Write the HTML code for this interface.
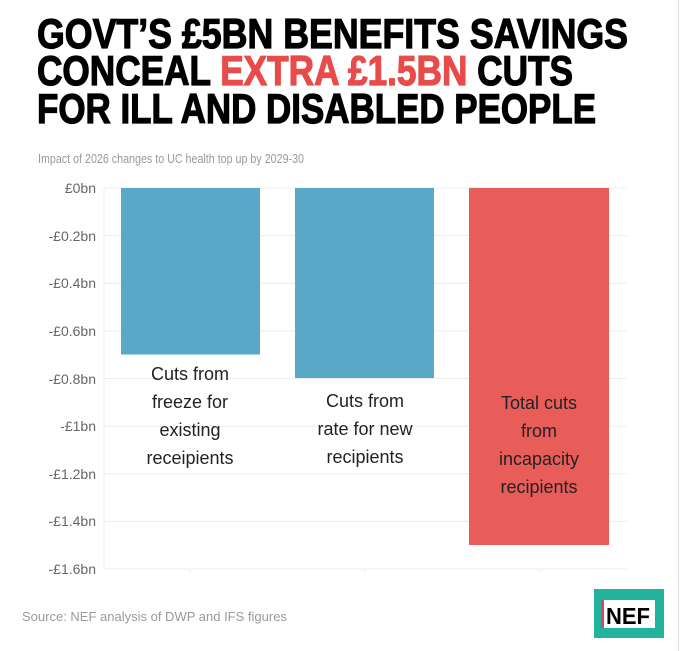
<!DOCTYPE html>
<html><head><meta charset="utf-8"><style>
html,body{margin:0;padding:0;background:#fff;width:680px;height:651px;overflow:hidden}
svg{display:block}
</style></head><body>
<svg width="680" height="651" viewBox="0 0 680 651" xmlns="http://www.w3.org/2000/svg">
<rect width="680" height="651" fill="#fff"/>
<line x1="678.5" y1="0" x2="678.5" y2="651" stroke="#ddd" stroke-width="1"/>
<g font-family="Liberation Sans, sans-serif" font-weight="bold" font-size="42" fill="#000" stroke="#000" stroke-width="1.2">
<text x="37" y="48" textLength="591" lengthAdjust="spacingAndGlyphs">GOVT’S £5BN BENEFITS SAVINGS</text>
<text x="37" y="85" textLength="536" lengthAdjust="spacingAndGlyphs">CONCEAL <tspan fill="#e84c4a" stroke="#e84c4a">EXTRA £1.5BN</tspan> CUTS</text>
<text x="37" y="123" textLength="559" lengthAdjust="spacingAndGlyphs">FOR ILL AND DISABLED PEOPLE</text>
</g>
<text x="38" y="163" font-family="Liberation Sans, sans-serif" font-size="13" fill="#9a9a9a" textLength="266" lengthAdjust="spacingAndGlyphs">Impact of 2026 changes to UC health top up by 2029-30</text>
<g stroke="#ececec" stroke-width="1">
<line x1="104" y1="188" x2="627" y2="188"/>
<line x1="104" y1="235.6" x2="627" y2="235.6"/>
<line x1="104" y1="283.2" x2="627" y2="283.2"/>
<line x1="104" y1="330.9" x2="627" y2="330.9"/>
<line x1="104" y1="378.5" x2="627" y2="378.5"/>
<line x1="104" y1="426.1" x2="627" y2="426.1"/>
<line x1="104" y1="473.7" x2="627" y2="473.7"/>
<line x1="104" y1="521.4" x2="627" y2="521.4"/>
<line x1="104" y1="569" x2="627" y2="569"/>
<line x1="104" y1="188" x2="104" y2="569"/>
<line x1="190" y1="569" x2="190" y2="573"/>
<line x1="365" y1="569" x2="365" y2="573"/>
<line x1="540" y1="569" x2="540" y2="573"/>
</g>
<g font-family="Liberation Sans, sans-serif" font-size="14" fill="#666" text-anchor="end">
<text x="96" y="193">£0bn</text>
<text x="96" y="241">-£0.2bn</text>
<text x="96" y="288">-£0.4bn</text>
<text x="96" y="336">-£0.6bn</text>
<text x="96" y="384">-£0.8bn</text>
<text x="96" y="431">-£1bn</text>
<text x="96" y="479">-£1.2bn</text>
<text x="96" y="526">-£1.4bn</text>
<text x="96" y="574">-£1.6bn</text>
</g>
<rect x="121" y="188" width="139" height="166.5" fill="#5aa8c7"/>
<rect x="295" y="188" width="139" height="190" fill="#5aa8c7"/>
<rect x="469" y="188" width="140" height="357" fill="#e85c5a"/>
<g font-family="Liberation Sans, sans-serif" font-size="18" fill="#222" text-anchor="middle">
<text x="190" y="380">Cuts from</text>
<text x="190" y="408">freeze for</text>
<text x="190" y="436">existing</text>
<text x="190" y="464">receipients</text>
<text x="365" y="407">Cuts from</text>
<text x="365" y="435">rate for new</text>
<text x="365" y="463">recipients</text>
<text x="539" y="409">Total cuts</text>
<text x="539" y="437">from</text>
<text x="539" y="465">incapacity</text>
<text x="539" y="493">recipients</text>
</g>
<text x="22" y="621" font-family="Liberation Sans, sans-serif" font-size="13" fill="#9a9a9a">Source: NEF analysis of DWP and IFS figures</text>
<rect x="594" y="589" width="70" height="49" fill="#23b39c"/>
<rect x="601" y="600" width="54" height="28" fill="#fff"/>
<rect x="601" y="600" width="3" height="28" fill="#d8446a"/>
<text x="628" y="624" font-family="Liberation Sans, sans-serif" font-weight="bold" font-size="23" fill="#000" text-anchor="middle" textLength="44" lengthAdjust="spacingAndGlyphs">NEF</text>
</svg>
</body></html>
